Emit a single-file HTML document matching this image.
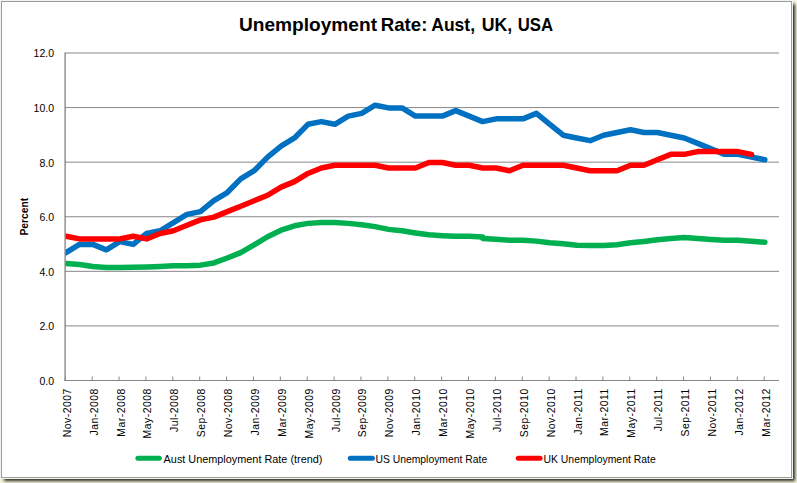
<!DOCTYPE html>
<html lang="en">
<head>
<meta charset="utf-8">
<title>Unemployment Rate: Aust, UK, USA</title>
<style>
html,body{margin:0;padding:0;}
body{width:797px;height:483px;overflow:hidden;background:#f5f5dc;position:relative;}
#frame{position:absolute;left:0;top:0;width:793px;height:479px;background:#fff;box-shadow:3px 3px 3px -1px #272720;}
#edge{position:absolute;left:0;top:0;width:791px;height:477px;border:1px solid #f3f3f3;}
#border{position:absolute;left:1px;top:1px;width:789px;height:475px;border:1px solid #9c9c9c;}
</style>
</head>
<body>
<div id="frame"></div>
<div id="edge"></div>
<div id="border"></div>
<svg width="797" height="483" viewBox="0 0 797 483" style="position:absolute;left:0;top:0">
<line x1="65.0" y1="53.00" x2="779.0" y2="53.00" stroke="#878787" stroke-width="1"/>
<line x1="65.0" y1="107.58" x2="779.0" y2="107.58" stroke="#878787" stroke-width="1"/>
<line x1="65.0" y1="162.17" x2="779.0" y2="162.17" stroke="#878787" stroke-width="1"/>
<line x1="65.0" y1="216.75" x2="779.0" y2="216.75" stroke="#878787" stroke-width="1"/>
<line x1="65.0" y1="271.33" x2="779.0" y2="271.33" stroke="#878787" stroke-width="1"/>
<line x1="65.0" y1="325.92" x2="779.0" y2="325.92" stroke="#878787" stroke-width="1"/>
<line x1="65.1" y1="52.5" x2="65.1" y2="381" stroke="#808080" stroke-width="1.3"/>
<line x1="64.5" y1="380.5" x2="779" y2="380.5" stroke="#878787" stroke-width="1"/>
<line x1="65.30" y1="376.5" x2="65.30" y2="380.5" stroke="#878787" stroke-width="1"/>
<line x1="92.18" y1="376.5" x2="92.18" y2="380.5" stroke="#878787" stroke-width="1"/>
<line x1="119.06" y1="376.5" x2="119.06" y2="380.5" stroke="#878787" stroke-width="1"/>
<line x1="145.94" y1="376.5" x2="145.94" y2="380.5" stroke="#878787" stroke-width="1"/>
<line x1="172.82" y1="376.5" x2="172.82" y2="380.5" stroke="#878787" stroke-width="1"/>
<line x1="199.70" y1="376.5" x2="199.70" y2="380.5" stroke="#878787" stroke-width="1"/>
<line x1="226.58" y1="376.5" x2="226.58" y2="380.5" stroke="#878787" stroke-width="1"/>
<line x1="253.46" y1="376.5" x2="253.46" y2="380.5" stroke="#878787" stroke-width="1"/>
<line x1="280.34" y1="376.5" x2="280.34" y2="380.5" stroke="#878787" stroke-width="1"/>
<line x1="307.22" y1="376.5" x2="307.22" y2="380.5" stroke="#878787" stroke-width="1"/>
<line x1="334.10" y1="376.5" x2="334.10" y2="380.5" stroke="#878787" stroke-width="1"/>
<line x1="360.98" y1="376.5" x2="360.98" y2="380.5" stroke="#878787" stroke-width="1"/>
<line x1="387.86" y1="376.5" x2="387.86" y2="380.5" stroke="#878787" stroke-width="1"/>
<line x1="414.74" y1="376.5" x2="414.74" y2="380.5" stroke="#878787" stroke-width="1"/>
<line x1="441.62" y1="376.5" x2="441.62" y2="380.5" stroke="#878787" stroke-width="1"/>
<line x1="468.50" y1="376.5" x2="468.50" y2="380.5" stroke="#878787" stroke-width="1"/>
<line x1="495.38" y1="376.5" x2="495.38" y2="380.5" stroke="#878787" stroke-width="1"/>
<line x1="522.26" y1="376.5" x2="522.26" y2="380.5" stroke="#878787" stroke-width="1"/>
<line x1="549.14" y1="376.5" x2="549.14" y2="380.5" stroke="#878787" stroke-width="1"/>
<line x1="576.02" y1="376.5" x2="576.02" y2="380.5" stroke="#878787" stroke-width="1"/>
<line x1="602.90" y1="376.5" x2="602.90" y2="380.5" stroke="#878787" stroke-width="1"/>
<line x1="629.78" y1="376.5" x2="629.78" y2="380.5" stroke="#878787" stroke-width="1"/>
<line x1="656.66" y1="376.5" x2="656.66" y2="380.5" stroke="#878787" stroke-width="1"/>
<line x1="683.54" y1="376.5" x2="683.54" y2="380.5" stroke="#878787" stroke-width="1"/>
<line x1="710.42" y1="376.5" x2="710.42" y2="380.5" stroke="#878787" stroke-width="1"/>
<line x1="737.30" y1="376.5" x2="737.30" y2="380.5" stroke="#878787" stroke-width="1"/>
<line x1="764.18" y1="376.5" x2="764.18" y2="380.5" stroke="#878787" stroke-width="1"/>
<defs><clipPath id="pc"><rect x="65.6" y="40" width="720" height="345"/></clipPath></defs>
<g fill="none" stroke-width="5.5" stroke-linejoin="round" stroke-linecap="round" clip-path="url(#pc)">
<polyline stroke="#00B050" points="66.00,263.50 79.44,264.59 92.88,266.50 106.32,267.59 119.76,267.59 133.20,267.32 146.64,266.91 160.08,266.50 173.52,265.82 186.96,265.68 200.40,265.13 213.84,262.95 227.28,258.04 240.72,252.58 254.16,244.94 267.60,236.75 281.04,230.20 294.48,225.83 307.92,223.38 321.36,222.56 334.80,222.56 348.24,223.38 361.68,224.74 375.12,226.65 388.56,229.38 402.00,230.75 415.44,232.93 428.88,234.84 442.32,235.66 455.76,236.34 469.20,236.34 482.64,237.02"/>
<polyline stroke="#00B050" points="482.64,238.47 496.08,239.34 509.52,240.16 522.96,240.30 536.40,241.12 549.84,242.75 563.28,243.71 576.72,245.35 590.16,245.48 603.60,245.48 617.04,244.66 630.48,242.75 643.92,241.39 657.36,239.75 670.80,238.39 684.24,237.57 697.68,238.39 711.12,239.48 724.56,240.30 738.00,240.30 751.44,241.25 764.88,242.21"/>
<polyline stroke="#0070C0" points="66.00,252.58 79.44,244.39 92.88,244.39 106.32,249.85 119.76,241.66 133.20,244.39 146.64,233.47 160.08,230.75 173.52,222.56 186.96,214.37 200.40,211.64 213.84,200.72 227.28,192.54 240.72,178.89 254.16,170.70 267.60,157.06 281.04,146.14 294.48,137.95 307.92,124.31 321.36,121.58 334.80,124.31 348.24,116.12 361.68,113.39 375.12,105.20 388.56,107.93 402.00,107.93 415.44,116.12 428.88,116.12 442.32,116.12 455.76,110.66 469.20,116.12 482.64,121.58 496.08,118.85 509.52,118.85 522.96,118.85 536.40,113.39 549.84,124.31 563.28,135.22 576.72,137.95 590.16,140.68 603.60,135.22 617.04,132.50 630.48,129.77 643.92,132.50 657.36,132.50 670.80,135.22 684.24,137.95 697.68,143.41 711.12,148.87 724.56,154.33 738.00,154.33 751.44,157.06 764.88,159.79"/>
<polyline stroke="#FF0000" points="66.00,236.20 79.44,238.93 92.88,238.93 106.32,238.93 119.76,238.93 133.20,236.20 146.64,238.93 160.08,233.47 173.52,230.75 186.96,225.29 200.40,219.83 213.84,217.10 227.28,211.64 240.72,206.18 254.16,200.72 267.60,195.27 281.04,187.08 294.48,181.62 307.92,173.43 321.36,167.97 334.80,165.25 348.24,165.25 361.68,165.25 375.12,165.25 388.56,167.97 402.00,167.97 415.44,167.97 428.88,162.52 442.32,162.52 455.76,165.25 469.20,165.25 482.64,167.97 496.08,167.97 509.52,170.70 522.96,165.25 536.40,165.25 549.84,165.25 563.28,165.25 576.72,167.97 590.16,170.70 603.60,170.70 617.04,170.70 630.48,165.25 643.92,165.25 657.36,159.79 670.80,154.33 684.24,154.33 697.68,151.60 711.12,151.60 724.56,151.60 738.00,151.60 751.44,154.33"/>
</g>
<g font-family="'Liberation Sans', sans-serif" font-size="10.5" fill="#000" text-anchor="end">
<text x="54" y="57.3">12.0</text>
<text x="54" y="111.9">10.0</text>
<text x="54" y="166.5">8.0</text>
<text x="54" y="221.1">6.0</text>
<text x="54" y="275.6">4.0</text>
<text x="54" y="330.2">2.0</text>
<text x="54" y="384.8">0.0</text>
</g>
<g font-family="'Liberation Sans', sans-serif" font-size="10.4" letter-spacing="0.5" fill="#000" text-anchor="end">
<text transform="translate(70.80,388.2) rotate(-90)">Nov-2007</text>
<text transform="translate(97.68,388.2) rotate(-90)">Jan-2008</text>
<text transform="translate(124.56,388.2) rotate(-90)">Mar-2008</text>
<text transform="translate(151.44,388.2) rotate(-90)">May-2008</text>
<text transform="translate(178.32,388.2) rotate(-90)">Jul-2008</text>
<text transform="translate(205.20,388.2) rotate(-90)">Sep-2008</text>
<text transform="translate(232.08,388.2) rotate(-90)">Nov-2008</text>
<text transform="translate(258.96,388.2) rotate(-90)">Jan-2009</text>
<text transform="translate(285.84,388.2) rotate(-90)">Mar-2009</text>
<text transform="translate(312.72,388.2) rotate(-90)">May-2009</text>
<text transform="translate(339.60,388.2) rotate(-90)">Jul-2009</text>
<text transform="translate(366.48,388.2) rotate(-90)">Sep-2009</text>
<text transform="translate(393.36,388.2) rotate(-90)">Nov-2009</text>
<text transform="translate(420.24,388.2) rotate(-90)">Jan-2010</text>
<text transform="translate(447.12,388.2) rotate(-90)">Mar-2010</text>
<text transform="translate(474.00,388.2) rotate(-90)">May-2010</text>
<text transform="translate(500.88,388.2) rotate(-90)">Jul-2010</text>
<text transform="translate(527.76,388.2) rotate(-90)">Sep-2010</text>
<text transform="translate(554.64,388.2) rotate(-90)">Nov-2010</text>
<text transform="translate(581.52,388.2) rotate(-90)">Jan-2011</text>
<text transform="translate(608.40,388.2) rotate(-90)">Mar-2011</text>
<text transform="translate(635.28,388.2) rotate(-90)">May-2011</text>
<text transform="translate(662.16,388.2) rotate(-90)">Jul-2011</text>
<text transform="translate(689.04,388.2) rotate(-90)">Sep-2011</text>
<text transform="translate(715.92,388.2) rotate(-90)">Nov-2011</text>
<text transform="translate(742.80,388.2) rotate(-90)">Jan-2012</text>
<text transform="translate(769.68,388.2) rotate(-90)">Mar-2012</text>
</g>
<text transform="translate(28,216.7) rotate(-90)" text-anchor="middle" textLength="37.5" lengthAdjust="spacingAndGlyphs" font-family="'Liberation Sans', sans-serif" font-size="10.9" font-weight="bold" fill="#000">Percent</text>
<text y="30.5" font-family="'Liberation Sans', sans-serif" font-size="19" font-weight="bold" fill="#000"><tspan x="239.0" textLength="138.0" lengthAdjust="spacingAndGlyphs">Unemployment</tspan> <tspan x="380.8" textLength="46.6" lengthAdjust="spacingAndGlyphs">Rate:</tspan> <tspan x="431.3" textLength="43.7" lengthAdjust="spacingAndGlyphs">Aust,</tspan> <tspan x="481.8" textLength="30.5" lengthAdjust="spacingAndGlyphs">UK,</tspan> <tspan x="517.7" textLength="35.3" lengthAdjust="spacingAndGlyphs">USA</tspan></text>
<g fill="none" stroke-width="5" stroke-linecap="round">
<line x1="137.9" y1="458.2" x2="159.3" y2="458.2" stroke="#00B050"/>
<line x1="350.3" y1="458.2" x2="372.4" y2="458.2" stroke="#0070C0"/>
<line x1="518.3" y1="458.2" x2="540.1" y2="458.2" stroke="#FF0000"/>
</g>
<g font-family="'Liberation Sans', sans-serif" font-size="10.5" fill="#000">
<text x="163.6" y="462.5" textLength="158.8" lengthAdjust="spacingAndGlyphs">Aust Unemployment Rate (trend)</text>
<text x="375.4" y="462.5" textLength="111.8" lengthAdjust="spacingAndGlyphs">US Unemployment Rate</text>
<text x="543.5" y="462.5" textLength="112.2" lengthAdjust="spacingAndGlyphs">UK Unemployment Rate</text>
</g>
</svg>
</body>
</html>
